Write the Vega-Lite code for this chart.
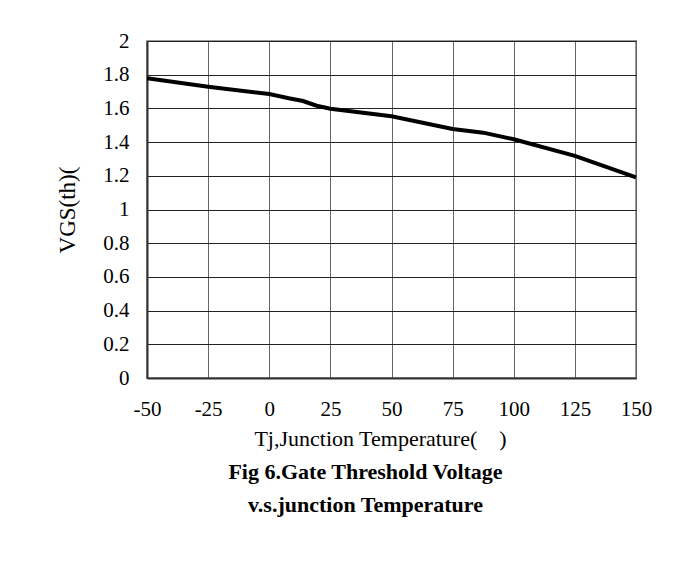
{
  "$schema": "https://vega.github.io/schema/vega-lite/v6.json",
  "autosize": {"type": "none"},
  "width": 489,
  "height": 337,
  "padding": {"left": 147, "top": 41, "right": 50, "bottom": 189},
  "background": "white",
  "data": {"values": [
    {"tj": -50, "vgs": 1.779},
    {"tj": -25, "vgs": 1.729},
    {"tj": 0, "vgs": 1.685},
    {"tj": 8, "vgs": 1.66},
    {"tj": 13.8, "vgs": 1.644},
    {"tj": 19.4, "vgs": 1.616},
    {"tj": 25, "vgs": 1.598},
    {"tj": 50, "vgs": 1.553},
    {"tj": 75, "vgs": 1.478},
    {"tj": 87.5, "vgs": 1.456},
    {"tj": 100, "vgs": 1.417},
    {"tj": 125, "vgs": 1.318},
    {"tj": 150, "vgs": 1.191}
  ]},
  "title": {
    "text": ["Fig 6.Gate Threshold Voltage", "v.s.junction Temperature"],
    "orient": "bottom",
    "anchor": "middle",
    "dx": -26,
    "font": "Liberation Serif",
    "fontSize": 22,
    "fontWeight": "bold",
    "lineHeight": 33,
    "offset": 13,
    "color": "black"
  },
  "mark": {"type": "line", "color": "black", "strokeWidth": 4, "clip": true},
  "encoding": {
    "x": {
      "field": "tj",
      "type": "quantitative",
      "scale": {"domain": [-50, 150], "nice": false, "zero": false},
      "axis": {
        "title": "Tj,Junction Temperature(\u00a0\u00a0\u00a0\u00a0)",
        "values": [-50, -25, 0, 25, 50, 75, 100, 125, 150],
        "labelExpr": "replace(datum.label, '\u2212', '-')",
        "labelPadding": 20,
        "titlePadding": 9,
        "titleFontSize": 22,
        "titleX": 233,
        "titleAlign": "center"
      }
    },
    "y": {
      "field": "vgs",
      "type": "quantitative",
      "scale": {"domain": [0, 2], "nice": false},
      "axis": {
        "title": "VGS(th)(",
        "titleFontSize": 23,
        "values": [0, 0.2, 0.4, 0.6, 0.8, 1, 1.2, 1.4, 1.6, 1.8, 2],
        "labelExpr": "datum.value === 1 ? '1' : datum.value === 0 ? '0' : datum.value === 2 ? '2' : format(datum.value, '.1f')",
        "labelPadding": 18,
        "titlePadding": 23,
        "gridColor": "#222"
      }
    }
  },
  "config": {
    "view": {"stroke": "#999", "strokeWidth": 2},
    "axis": {
      "labelFont": "Liberation Serif",
      "titleFont": "Liberation Serif",
      "labelFontSize": 21,
      "titleFontSize": 20,
      "titleFontWeight": "normal",
      "labelColor": "black",
      "titleColor": "black",
      "grid": true,
      "gridColor": "#666",
      "gridOpacity": 1,
      "gridWidth": 1,
      "ticks": false,
      "domainColor": "#333",
      "domainWidth": 2,
      "labelOverlap": false,
      "labelFlush": false
    }
  }
}
